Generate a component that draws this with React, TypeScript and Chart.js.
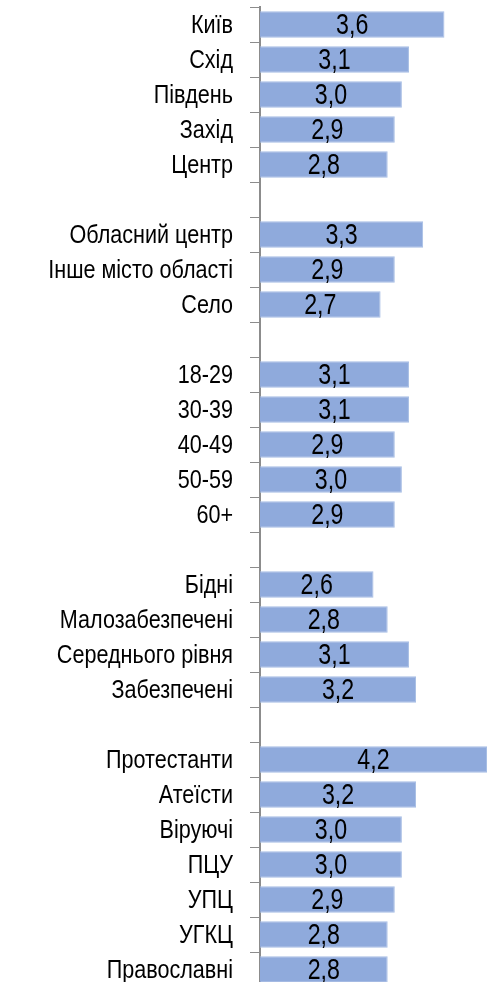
import React, { useEffect, useRef } from "react";
import { Chart, registerables } from "chart.js";

Chart.register(...registerables);

const categories: string[] = [
  "Київ", "Схід", "Південь", "Захід", "Центр",
  "",
  "Обласний центр", "Інше місто області", "Село",
  "",
  "18-29", "30-39", "40-49", "50-59", "60+",
  "",
  "Бідні", "Малозабезпечені", "Середнього рівня", "Забезпечені",
  "",
  "Протестанти", "Атеїсти", "Віруючі", "ПЦУ", "УПЦ", "УГКЦ", "Православні",
];

const values: (number | null)[] = [
  3.6, 3.1, 3.0, 2.9, 2.8,
  null,
  3.3, 2.9, 2.7,
  null,
  3.1, 3.1, 2.9, 3.0, 2.9,
  null,
  2.6, 2.8, 3.1, 3.2,
  null,
  4.2, 3.2, 3.0, 3.0, 2.9, 2.8, 2.8,
];

const FONT = "'Liberation Sans', Arial, sans-serif";
const CATEGORY_SQUEEZE = 0.83;
const VALUE_SQUEEZE = 0.8;

const condensedText = {
  id: "condensedText",
  afterDatasetsDraw(chart: any) {
    const ctx = chart.ctx;
    const meta = chart.getDatasetMeta(0);
    const left = chart.chartArea.left;
    ctx.save();
    ctx.font = `29px ${FONT}`;
    ctx.fillStyle = "#000000";
    ctx.textAlign = "center";
    ctx.textBaseline = "middle";
    meta.data.forEach((el: any, i: number) => {
      const v = values[i];
      if (v === null || v === undefined) return;
      const start = Math.max(el.base, left);
      const cx = (el.x + start) / 2;
      ctx.save();
      ctx.translate(cx, el.y + 1);
      ctx.scale(VALUE_SQUEEZE, 1);
      ctx.fillText(v.toFixed(1).replace(".", ","), 0, 0);
      ctx.restore();
    });
    ctx.restore();
  },
  afterDraw(chart: any) {
    const ctx = chart.ctx;
    const yScale = chart.scales.y;
    const rightEdge = yScale.right - 10 - 17;
    ctx.save();
    ctx.font = `26px ${FONT}`;
    ctx.fillStyle = "#000000";
    ctx.textAlign = "right";
    ctx.textBaseline = "middle";
    categories.forEach((label, i) => {
      if (!label) return;
      const y = yScale.getPixelForTick(i);
      ctx.save();
      ctx.translate(rightEdge, y + 1);
      ctx.scale(CATEGORY_SQUEEZE, 1);
      ctx.fillText(label, 0, 0);
      ctx.restore();
    });
    ctx.restore();
  },
};

export default function App() {
  const canvasRef = useRef<HTMLCanvasElement | null>(null);

  useEffect(() => {
    if (!canvasRef.current) return;
    const chart = new Chart(canvasRef.current, {
      type: "bar",
      data: {
        labels: categories,
        datasets: [
          {
            data: values as any,
            backgroundColor: "#8FAADC",
            borderColor: "#A6BDE4",
            borderWidth: 1,
            barPercentage: 0.76,
            categoryPercentage: 1,
          },
        ],
      },
      options: {
        indexAxis: "y",
        animation: false,
        responsive: true,
        maintainAspectRatio: false,
        layout: { padding: { top: 7, bottom: 1, right: 0, left: 0 } },
        plugins: {
          legend: { display: false },
          tooltip: { enabled: false },
        },
        scales: {
          x: {
            display: false,
            min: 1,
            max: 4.2,
          },
          y: {
            offset: true,
            afterFit(scale: any) {
              scale.width = 260;
              scale.paddingTop = 0;
              scale.paddingBottom = 0;
            },
            grid: {
              display: true,
              drawOnChartArea: false,
              drawTicks: true,
              tickLength: 10,
              offset: true,
              color: "#8C8C8C",
              lineWidth: 1,
            },
            border: { display: true, color: "#8C8C8C", width: 2 },
            ticks: {
              padding: 17,
              autoSkip: false,
              callback: () => "",
              font: { size: 10, family: FONT },
            },
          },
        },
      },
      plugins: [condensedText],
    });
    return () => chart.destroy();
  }, []);

  return (
    <div style={{ position: "fixed", left: 0, top: 0, width: 487, height: 988, background: "#fff" }}>
      <canvas ref={canvasRef} />
    </div>
  );
}
